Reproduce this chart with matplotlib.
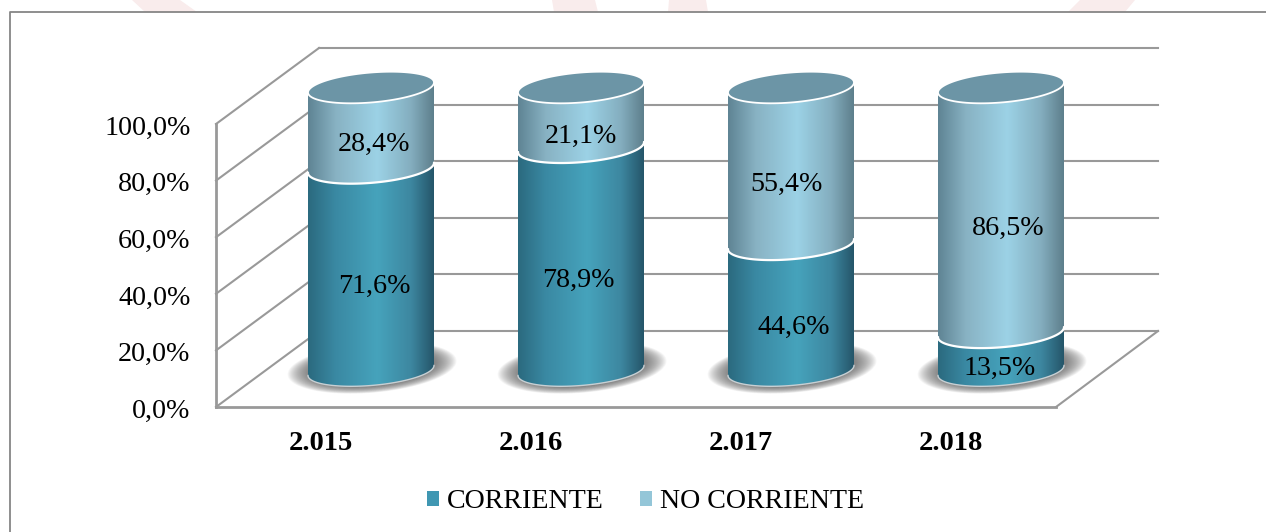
import numpy as np
import matplotlib
matplotlib.use('Agg')
import matplotlib.pyplot as plt
from matplotlib.patches import Polygon, Patch
from matplotlib.lines import Line2D
from matplotlib.transforms import ScaledTranslation

plt.rcParams['font.family'] = ['Liberation Serif', 'DejaVu Serif']

anios = ['2.015', '2.016', '2.017', '2.018']
corriente = [71.6, 78.9, 44.6, 13.5]
no_corriente = [28.4, 21.1, 55.4, 86.5]
ticks_y = [0, 20, 40, 60, 80, 100]
etiquetas_y = ['0,0%', '20,0%', '40,0%', '60,0%', '80,0%', '100,0%']

# ajuste fino de las etiquetas, en pixeles (x, y hacia abajo)
ajuste_corr = [(3, 1), (-3, 6), (3, 4), (-1, 1)]
ajuste_nocorr = [(3, 1), (0, 3), (-4, 3), (7, 3)]

color_corr = '#4097B2'
color_nocorr = '#94C6D8'
color_tapa = '#6C95A6'
color_rejilla = '#999999'
color_marco = '#868686'
color_marca = '#F9ECEC'

# paradas del degradado horizontal de cada cilindro
paradas = [0.0, 0.22, 0.55, 0.82, 1.0]
grad_corr = ['#2B6A7F', '#3A89A3', '#46A3BC', '#3D87A0', '#25566A']
grad_nocorr = ['#5F8494', '#88B2C3', '#9CD2E6', '#84AEBF', '#5E7F8C']

W, H = 1266, 532
PX_X = 210.0    # pixeles por categoria
PX_Y = 2.83     # pixeles por punto porcentual
LETRA = 20.2

fig = plt.figure(figsize=(W / 100, H / 100), dpi=100)
izq, der = 216, 1158
abajo, arriba = 407, 47
ax = fig.add_axes([izq / W, 1 - abajo / H, (der - izq) / W, (abajo - arriba) / H])
ax.patch.set_alpha(0)
for s in ax.spines.values():
    s.set_visible(False)

xmin, xmax = -0.5, -0.5 + (der - izq) / PX_X
ymin, ymax = 0, (abajo - arriba) / PX_Y

# profundidad de la caja 3D
prof_x = 103 / PX_X
prof_y = 76 / PX_Y
# posicion del cilindro dentro del suelo
cil_dx = 50 / PX_X
cil_dy = 36.5 / PX_Y
rad_x = 63 / PX_X
rad_y = 15 / PX_Y
incl = 5 / PX_Y


def elipse(cx, cy, t, esc=1.0, esc_y=1.0):
    return cx + esc * rad_x * np.cos(t), cy + esc * (incl * np.cos(t) + esc_y * rad_y * np.sin(t))


def gradiente(colores):
    xs = np.linspace(0, 1, 128)
    rgb = np.array([matplotlib.colors.to_rgb(c) for c in colores])
    return np.stack([np.interp(xs, paradas, rgb[:, i]) for i in range(3)], axis=1)[np.newaxis, :, :]


def tramo(cx, y0, y1, colores, z):
    t = np.linspace(np.pi, 2 * np.pi, 80)
    xa, ya = elipse(cx, y0, t)
    xb, yb = elipse(cx, y1, t[::-1])
    pts = np.column_stack([np.r_[xa, xb], np.r_[ya, yb]])
    pol = Polygon(pts, closed=True, transform=ax.transData, fc='none', ec='none')
    ax.add_patch(pol)
    im = ax.imshow(gradiente(colores), extent=[cx - rad_x, cx + rad_x, y0 - 10, y1 + 10],
                   aspect='auto', interpolation='bilinear', zorder=z, clip_on=True)
    im.set_clip_path(pol)
    return xa, ya


def etiqueta(x, y, valor, ajuste):
    desp = ScaledTranslation(ajuste[0] / 100, -ajuste[1] / 100, fig.dpi_scale_trans)
    ax.text(x, y, f'{valor:.1f}%'.replace('.', ','), ha='center', va='center', fontsize=LETRA,
            color='black', zorder=6, transform=ax.transData + desp)


# pared del fondo
for v in ticks_y:
    ax.plot([xmin + prof_x, xmax], [v + prof_y, v + prof_y], color=color_rejilla, lw=1.5, zorder=1, clip_on=False)
    ax.plot([xmin, xmin + prof_x], [v, v + prof_y], color=color_rejilla, lw=1.5, zorder=1, clip_on=False)
ax.plot([xmin, xmin], [0, 100], color=color_rejilla, lw=2, zorder=1, clip_on=False)
ax.plot([xmin, 3.5], [0, 0], color=color_rejilla, lw=2, zorder=1, clip_on=False)
ax.plot([3.5, xmax], [0, prof_y], color=color_rejilla, lw=1.5, zorder=1, clip_on=False)

for i in range(len(anios)):
    cx = i + cil_dx
    base = cil_dy
    limite = base + corriente[i]
    techo = limite + no_corriente[i]

    # sombra difusa en el suelo
    t = np.linspace(0, 2 * np.pi, 100)
    for esc in np.linspace(1.34, 1.0, 22):
        xs, ys = elipse(cx + 0.005, base + 1.0, t, esc, 1.25)
        ax.fill(xs, ys, color='#555555', alpha=0.05, lw=0, zorder=2)

    xa, ya = tramo(cx, base, limite, grad_corr, 3)
    ax.plot(xa, ya, color='#C8D0D4', lw=1.0, zorder=4)
    xb, yb = tramo(cx, limite, techo, grad_nocorr, 3)
    ax.plot(xb, yb, color='white', lw=1.6, zorder=4)

    xt, yt = elipse(cx, techo, t)
    ax.fill(xt, yt, color=color_tapa, ec='white', lw=1.3, zorder=5)

    off = -16 / PX_Y
    etiqueta(cx, base + corriente[i] / 2 + off, corriente[i], ajuste_corr[i])
    etiqueta(cx, limite + no_corriente[i] / 2 + off, no_corriente[i], ajuste_nocorr[i])

ax.set_xlim(xmin, xmax)
ax.set_ylim(ymin, ymax)
ax.set_xticks(range(len(anios)))
ax.set_xticklabels(anios, fontsize=20.5, fontweight='bold')
ax.set_yticks(ticks_y)
ax.set_yticklabels(etiquetas_y, fontsize=LETRA)
ax.tick_params(axis='both', length=0)
ax.tick_params(axis='y', pad=18.3)
ax.tick_params(axis='x', pad=17)
bajar = ScaledTranslation(0, -0.012, fig.dpi_scale_trans)
for lab in ax.get_yticklabels():
    lab.set_transform(lab.get_transform() + bajar)

leyenda = [Patch(fc=color_corr, label='CORRIENTE'), Patch(fc=color_nocorr, label='NO CORRIENTE')]
fig.legend(handles=leyenda, loc='center', bbox_to_anchor=(645.5 / W, 1 - 502 / H), ncol=2, frameon=False,
           fontsize=20.2, handlelength=0.44, handleheight=0.44, handletextpad=0.26, columnspacing=1.3,
           borderpad=0)

# marco y restos de la marca de agua arriba
fondo = fig.add_axes([0, 0, 1, 1], zorder=-1)
fondo.set_xlim(0, W)
fondo.set_ylim(H, 0)
fondo.axis('off')
for pts in ([(132, 0), (180, 0), (197, 12), (145, 12)],
            [(552, 0), (595, 0), (598, 12), (554, 12)],
            [(669, 0), (706, 0), (708, 12), (668, 12)],
            [(1080, 0), (1135, 0), (1125, 12), (1068, 12)]):
    fondo.add_patch(Polygon(pts, closed=True, fc=color_marca, ec='none'))
fondo.add_line(Line2D([10, 10, W], [H, 12, 12], color=color_marco, lw=1.3))

fig.savefig('out.png', dpi=100, facecolor='white')
